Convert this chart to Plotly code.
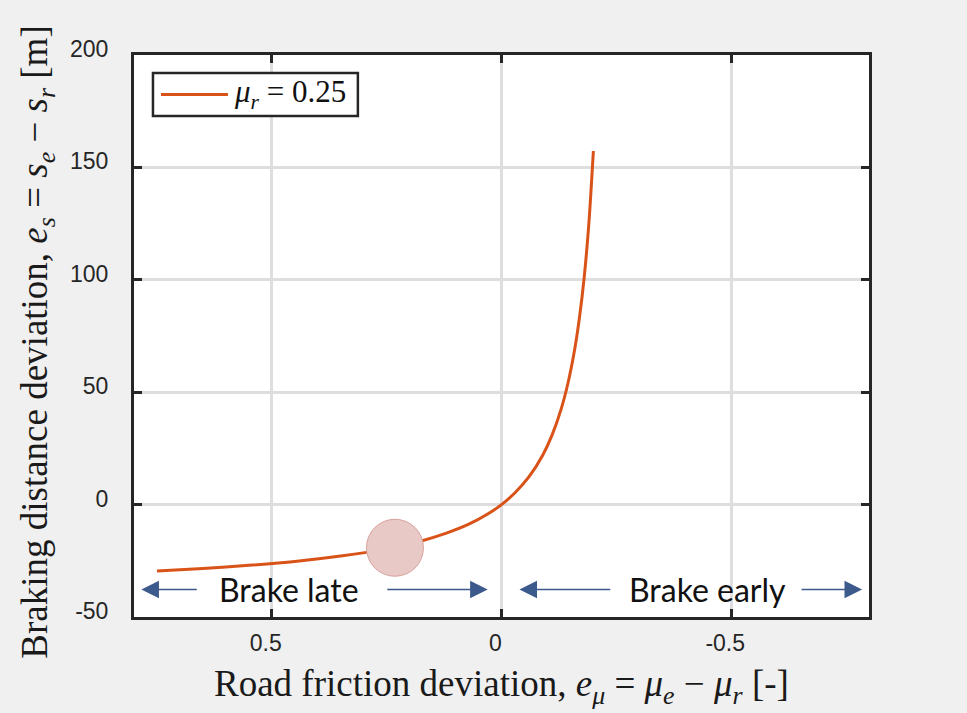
import plotly.graph_objects as go

# Road friction deviation e_mu = mu_e - mu_r  and braking distance deviation e_s [m]
e_mu = [0.75, 0.65, 0.55, 0.45, 0.35, 0.25, 0.18, 0.12, 0.07, 0.03, 0.0,
        -0.03, -0.06, -0.09, -0.11, -0.13, -0.145, -0.16, -0.17, -0.18, -0.19, -0.20]
e_s = [-29.5, -28.4, -27.0, -25.3, -22.9, -19.7, -16.5, -12.7, -8.6, -4.2, 0.0,
       5.4, 12.4, 22.1, 30.9, 42.6, 54.3, 69.9, 83.6, 101.1, 124.5, 157.3]

# highlighted operating point
point_x = [0.232]
point_y = [-19.2]

x_ticks = [0.5, 0, -0.5]
x_tick_text = ["0.5", "0", "-0.5"]
y_ticks = [-50, 0, 50, 100, 150, 200]
y_tick_text = ["-50", "0", "50", "100", "150", "200"]

# region arrows: (tip_x, tail_x) at a common height
arrow_y = -37.8
arrows = [(0.784, 0.660), (0.030, 0.252), (-0.039, -0.240), (-0.785, -0.650)]
region_labels = [("Brake late", 0.463), ("Brake early", -0.448)]

ORANGE = "#d95319"
ARROW = "#3d5a8c"
FRAME = "#262626"
GRID = "#dedede"
SERIF = "Liberation Serif"
SANS = "Liberation Sans"

fig = go.Figure()
fig.add_trace(go.Scatter(x=e_mu, y=e_s, mode="lines",
                         line=dict(color=ORANGE, width=3, shape="spline", smoothing=0.8),
                         showlegend=False, hoverinfo="skip"))
fig.add_trace(go.Scatter(x=point_x, y=point_y, mode="markers",
                         marker=dict(size=57, color="#e8c9c5",
                                     line=dict(color="#d8a29c", width=1)),
                         showlegend=False, hoverinfo="skip"))

annotations = []
for tip, tail in arrows:
    annotations.append(dict(x=tip, y=arrow_y, ax=tail, ay=arrow_y,
                            xref="x", yref="y", axref="x", ayref="y",
                            text="", showarrow=True, arrowhead=2, arrowsize=2.2,
                            arrowwidth=1.6, arrowcolor=ARROW))
for label, lx in region_labels:
    annotations.append(dict(x=lx, y=arrow_y, xref="x", yref="y", text=label,
                            showarrow=False, xanchor="center", yanchor="middle",
                            font=dict(family="Lato", size=32, color="#111111")))

# axis titles
annotations.append(dict(
    x=0.5, y=-0.1228, xref="paper", yref="paper", showarrow=False,
    xanchor="center", yanchor="middle",
    text="Road friction deviation, <i>e</i><sub><i>μ</i></sub> = <i>μ</i><sub><i>e</i></sub>"
         " − <i>μ</i><sub><i>r</i></sub> [-]",
    font=dict(family=SERIF, size=37, color="#1a1a1a")))
annotations.append(dict(
    x=-0.1306, y=0.488, xref="paper", yref="paper", showarrow=False,
    xanchor="center", yanchor="middle", textangle=-90,
    text="Braking distance deviation, <i>e</i><sub><i>s</i></sub> = <i>s</i><sub><i>e</i></sub>"
         " − <i>s</i><sub><i>r</i></sub> [m]",
    font=dict(family=SERIF, size=37, color="#1a1a1a")))

# legend box
annotations.append(dict(
    x=0.2128, y=0.9306, xref="paper", yref="paper", showarrow=False,
    xanchor="center", yanchor="middle",
    text="<i>μ</i><sub><i>r</i></sub> = 0.25",
    font=dict(family=SERIF, size=31, color="#111111")))

shapes = [
    dict(type="rect", xref="paper", yref="paper", x0=0.0258, x1=0.3046, y0=0.8915, y1=0.968,
         line=dict(color=FRAME, width=2.5), fillcolor="white", layer="above"),
    dict(type="line", xref="paper", yref="paper", x0=0.0367, x1=0.1278, y0=0.9297, y1=0.9297,
         line=dict(color=ORANGE, width=3), layer="above"),
]

fig.update_layout(
    width=967, height=713,
    margin=dict(l=134, r=98, t=55, b=96),
    paper_bgcolor="#f0f0f0", plot_bgcolor="white",
    annotations=annotations, shapes=shapes,
    showlegend=False,
)
fig.update_xaxes(range=[0.8, -0.8], tickvals=x_ticks, ticktext=x_tick_text,
                 showgrid=True, gridcolor=GRID, gridwidth=2.5, zeroline=False,
                 showline=True, linecolor=FRAME, linewidth=3, mirror="ticks",
                 ticks="inside", ticklen=8, tickwidth=2.5, tickcolor=FRAME,
                 tickfont=dict(family=SANS, size=23, color="#262626"),
                 ticklabelstandoff=3, ticklabelshift=6)
fig.update_yaxes(range=[-50, 200], tickvals=y_ticks, ticktext=y_tick_text,
                 showgrid=True, gridcolor=GRID, gridwidth=2.5, zeroline=False,
                 showline=True, linecolor=FRAME, linewidth=3, mirror="ticks",
                 ticks="inside", ticklen=8, tickwidth=2.5, tickcolor=FRAME,
                 tickfont=dict(family=SANS, size=23, color="#262626"),
                 ticklabelstandoff=18, ticklabelshift=-6)

fig.write_html("out.html")
